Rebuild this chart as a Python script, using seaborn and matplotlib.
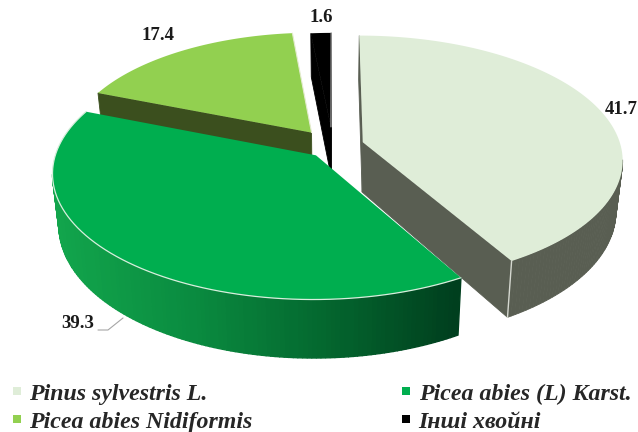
import numpy as np
import matplotlib
matplotlib.use('Agg')
import matplotlib.pyplot as plt
from matplotlib.lines import Line2D
import seaborn as sns

species = ['Pinus sylvestris L.', 'Picea abies (L) Karst.', 'Picea abies Nidiformis', 'Інші хвойні']
shares = [41.7, 39.3, 17.4, 1.6]
top_colors = ['#DFEDD8', '#00AE4F', '#92D050', '#000000']
wall_colors = ['#595E52', '#0C9A46', '#3B4F1E', '#000000']

# pie projection (pixels of the 638x432 picture)
ORIGIN = (333, 146)
A, B, K = 258, 122, 0.135
DEPTH = 50
BOTTOM_X = 0.977
EXPLODE = [0.12, 0.10, 0.14, 0.16]
RADIUS = [1.0, 1.0, 0.95, 0.90]


def project(x, y, low=False):
    w = 1 + K * y
    px = A * x / w
    py = B * y / w
    if low:
        return ORIGIN[0] + px * BOTTOM_X, ORIGIN[1] - py + DEPTH / w
    return ORIGIN[0] + px, ORIGIN[1] - py


sns.set_theme(style='white')
plt.rcParams['font.family'] = ['Liberation Serif', 'DejaVu Serif']

fig = plt.figure(figsize=(6.38, 4.32), dpi=100)
ax = fig.add_axes([0, 0, 1, 1])
ax.set_xlim(0, 638)
ax.set_ylim(432, 0)
ax.axis('off')

# slices run clockwise from the top
edges = 90 - 3.6 * np.concatenate([[0], np.cumsum(shares)])
green_ramp = sns.blend_palette(['#12A54C', '#0A8C40', '#04682F', '#003F1E'], 80)

# back to front
for layer, i in enumerate([2, 3, 0, 1]):
    mid = np.radians((edges[i] + edges[i + 1]) / 2)
    cx, cy = EXPLODE[i] * np.cos(mid), EXPLODE[i] * np.sin(mid)
    t = np.radians(np.linspace(edges[i], edges[i + 1], 160))
    xs = np.concatenate([[cx], cx + RADIUS[i] * np.cos(t), [cx]])
    ys = np.concatenate([[cy], cy + RADIUS[i] * np.sin(t), [cy]])
    top_x, top_y = project(xs, ys)
    low_x, low_y = project(xs, ys, low=True)
    z = layer + 1

    # outline goes clockwise, so a wall faces the viewer where x falls
    for j in range(len(xs) - 1):
        if top_x[j + 1] - top_x[j] >= 0:
            continue
        col = wall_colors[i]
        if i == 1:
            pos = (low_x[j] - low_x[1:-1].min()) / (low_x[1:-1].max() - low_x[1:-1].min())
            col = green_ramp[min(int(pos * 80), 79)]
        ax.fill([top_x[j], top_x[j + 1], low_x[j + 1], low_x[j]],
                [top_y[j], top_y[j + 1], low_y[j + 1], low_y[j]],
                color=col, lw=1.0 if i == 1 else 0.6, zorder=z)
    ax.fill(top_x, top_y, color=top_colors[i], lw=0, zorder=z + 0.5)

    if i == 1:
        ax.plot(top_x[1:-1], top_y[1:-1], color='#D8EFDD', lw=0.9, zorder=z + 0.6)
    if i == 2:
        ax.plot(top_x[[-2, -1]], top_y[[-2, -1]], color='#E4EBCF', lw=0.8, zorder=z + 0.6)
    if i == 3:
        ax.plot(top_x[[-2, -1]], top_y[[-2, -1]], color='#BBBBBB', lw=0.8, zorder=z + 0.6)
    if i == 0:
        ax.plot([top_x[-2], low_x[-2]], [top_y[-2], low_y[-2]], color='#D5D8D0', lw=1, zorder=z + 0.6)

# value labels
label_font = dict(fontsize=13.5, fontweight='bold', color='#1A1A1A', ha='center', va='center', zorder=10)
ax.text(621, 110, '41.7', **label_font)
ax.text(78, 324, '39.3', **label_font)
ax.text(158, 35, '17.4', **label_font)
ax.text(321, 18, '1.6', **label_font)
ax.plot([98, 108, 123], [330, 330, 318], color='#A6A6A6', lw=0.8, zorder=10)

# legend fills column by column
handles = [Line2D([], [], ls='', marker='s', ms=6, mew=0, color=c) for c in top_colors]
order = [0, 2, 1, 3]
ax.legend([handles[n] for n in order], [species[n] for n in order],
          ncol=2, loc='lower left', bbox_to_anchor=(0.003, -0.021), frameon=False,
          handlelength=0.55, handletextpad=0.25, columnspacing=6.15, labelspacing=0.27,
          borderpad=0.35, borderaxespad=0.0,
          prop=dict(family='Liberation Serif', style='italic', weight='bold', size=17.2))

fig.savefig('out.png', dpi=100)
